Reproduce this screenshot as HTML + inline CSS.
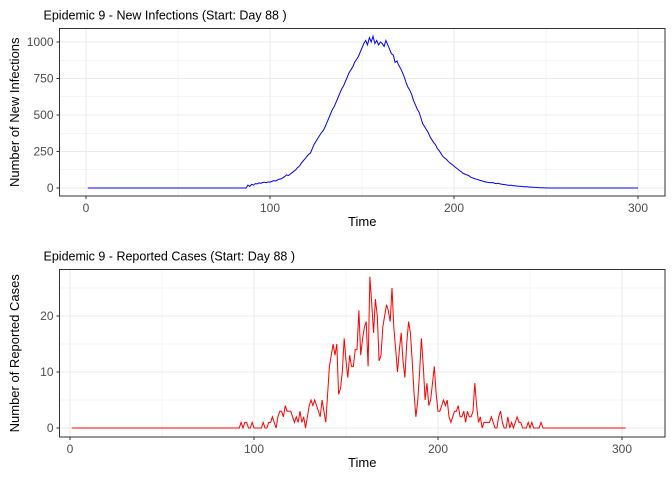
<!DOCTYPE html>
<html><head><meta charset="utf-8"><style>
body{margin:0;background:#fff;}
svg{display:block;font-family:"Liberation Sans",Arial,sans-serif;}
</style></head><body>
<svg id="chart" width="672" height="480" viewBox="0 0 672 480">
<rect width="672" height="480" fill="#fff"/>
<g id="top"></g>
<g id="bot"></g>
</svg>
<script>
const infStart = 88;
const infValues = [20,10,25,20,30,28,35,32,38,40,36,42,40,45,50,48,55,60,62,70,78,90,85,95,105,115,125,140,150,170,185,200,215,230,240,270,300,320,340,360,380,395,420,450,480,510,540,560,590,620,650,680,700,730,760,790,810,830,860,880,900,930,960,990,1010,980,1030,1000,1040,990,1010,980,1000,990,970,1010,980,950,920,910,860,870,840,820,790,760,720,690,670,640,600,570,540,520,480,440,420,400,380,350,330,310,295,270,255,235,215,205,195,180,170,160,150,140,130,120,110,100,95,90,85,75,70,65,60,58,52,50,45,42,40,38,36,38,32,30,32,28,26,24,22,20,18,20,16,15,14,12,12,10,9,8,8,6,6,5,4,4,3,2,2,1,1];
const infEndDay = 300;
const repStart = 88;
const repValues = [0,0,0,0,0,1,0,1,1,0,0,1,0,0,0,0,0,1,0,0,1,1,2,1,0,2,3,3,2,4,3,3,3,2,1,2,1,3,1,2,0,2,4,5,4,5,4,3,2,5,3,1,6,11,13,15,13,15,6,7,10,16,12,9,13,11,11,14,14,21,13,16,18,19,11,27,22,17,23,20,12,13,18,20,22,21,19,25,18,14,10,14,17,12,9,15,19,17,12,6,2,5,10,16,11,5,8,4,
5,8,11,6,3,3,4,5,4,5,2,1,2,3,3,4,2,2,3,1,3,2,2,3,8,4,1,2,0,1,1,1,1,2,1,0,0,2,3,1,0,0,2,0,1,0,1,2,1,1,0,0,0,1,0,1,0,0,0,0,1,0];
const repEndDay = 302;
const xTicks = [0,100,200,300];
const infYTicks = [0,250,500,750,1000];
const repYTicks = [0,10,20];

const NS='http://www.w3.org/2000/svg';
function mk(parent,tag,attrs,text){const e=document.createElementNS(NS,tag);for(const k in attrs)e.setAttribute(k,attrs[k]);if(text!==undefined)e.textContent=text;parent.appendChild(e);return e;}

function fullSeries(start,vals,end){const d=[];for(let day=1;day<=end;day++){const i=day-start;d.push([day,(i>=0&&i<vals.length)?vals[i]:0]);}return d;}

function panel(g,o){
  const {L,R,T,B,x0,xs,y0,ys,yTicks,yMinor,xMinor,title,ytitle,color,data}=o;
  const X=v=>x0+v*xs, Y=v=>y0-v*ys;
  let e=mk(g,'text',{x:L-16,y:T-9,'font-size':12.5,fill:'#000'},title);
  
  
  for(const v of yMinor){e=mk(g,'line',{x1:L,x2:R,y1:Y(v),y2:Y(v),stroke:'#ebebeb','stroke-width':0.6});}
  for(const v of xMinor){e=mk(g,'line',{x1:X(v),x2:X(v),y1:T,y2:B,stroke:'#ebebeb','stroke-width':0.6});}
  for(const v of yTicks){e=mk(g,'line',{x1:L,x2:R,y1:Y(v),y2:Y(v),stroke:'#ebebeb','stroke-width':1.1});
    e=mk(g,'line',{x1:L-3,x2:L,y1:Y(v),y2:Y(v),stroke:'#333','stroke-width':1});
    e=mk(g,'text',{x:L-6,y:Y(v)+4,'font-size':12,fill:'#4d4d4d','text-anchor':'end'},v);}
  for(const v of xTicks){e=mk(g,'line',{x1:X(v),x2:X(v),y1:T,y2:B,stroke:'#ebebeb','stroke-width':1.1});
    e=mk(g,'line',{x1:X(v),x2:X(v),y1:B,y2:B+3,stroke:'#333','stroke-width':1});
    e=mk(g,'text',{x:X(v),y:B+16,'font-size':12,fill:'#4d4d4d','text-anchor':'middle'},v);}
  e=mk(g,'polyline',{points:data.map(p=>X(p[0]).toFixed(1)+','+Y(p[1]).toFixed(1)).join(' '),fill:'none',stroke:color,'stroke-width':1});
  
  
  e=mk(g,'rect',{x:L,y:T,width:R-L,height:B-T,fill:'none',stroke:'#333','stroke-width':1});
  
  
  e=mk(g,'text',{x:(L+R)/2,y:B+30,'font-size':13,fill:'#000','text-anchor':'middle'},'Time');
  
  
  const cy=(T+B)/2;
  e=mk(g,'text',{x:19,y:cy,'font-size':13,fill:'#000','text-anchor':'middle',transform:`rotate(-90 19 ${cy})`},ytitle);
  
  
}
panel(document.getElementById('top'),{L:59.5,R:665,T:28.5,B:196,x0:86,xs:1.84,y0:188,ys:0.146,
  yTicks:infYTicks,yMinor:[125,375,625,875],xMinor:[50,150,250],
  title:'Epidemic 9 - New Infections (Start: Day 88 )',ytitle:'Number of New Infections',color:'#0000ff',
  data:fullSeries(infStart,infValues,infEndDay)});
panel(document.getElementById('bot'),{L:59.5,R:665,T:269.5,B:437,x0:70,xs:1.84,y0:428,ys:5.6,
  yTicks:repYTicks,yMinor:[5,15,25],xMinor:[50,150,250],
  title:'Epidemic 9 - Reported Cases (Start: Day 88 )',ytitle:'Number of Reported Cases',color:'#ff0000',
  data:fullSeries(repStart,repValues,repEndDay)});
</script>
</body></html>
